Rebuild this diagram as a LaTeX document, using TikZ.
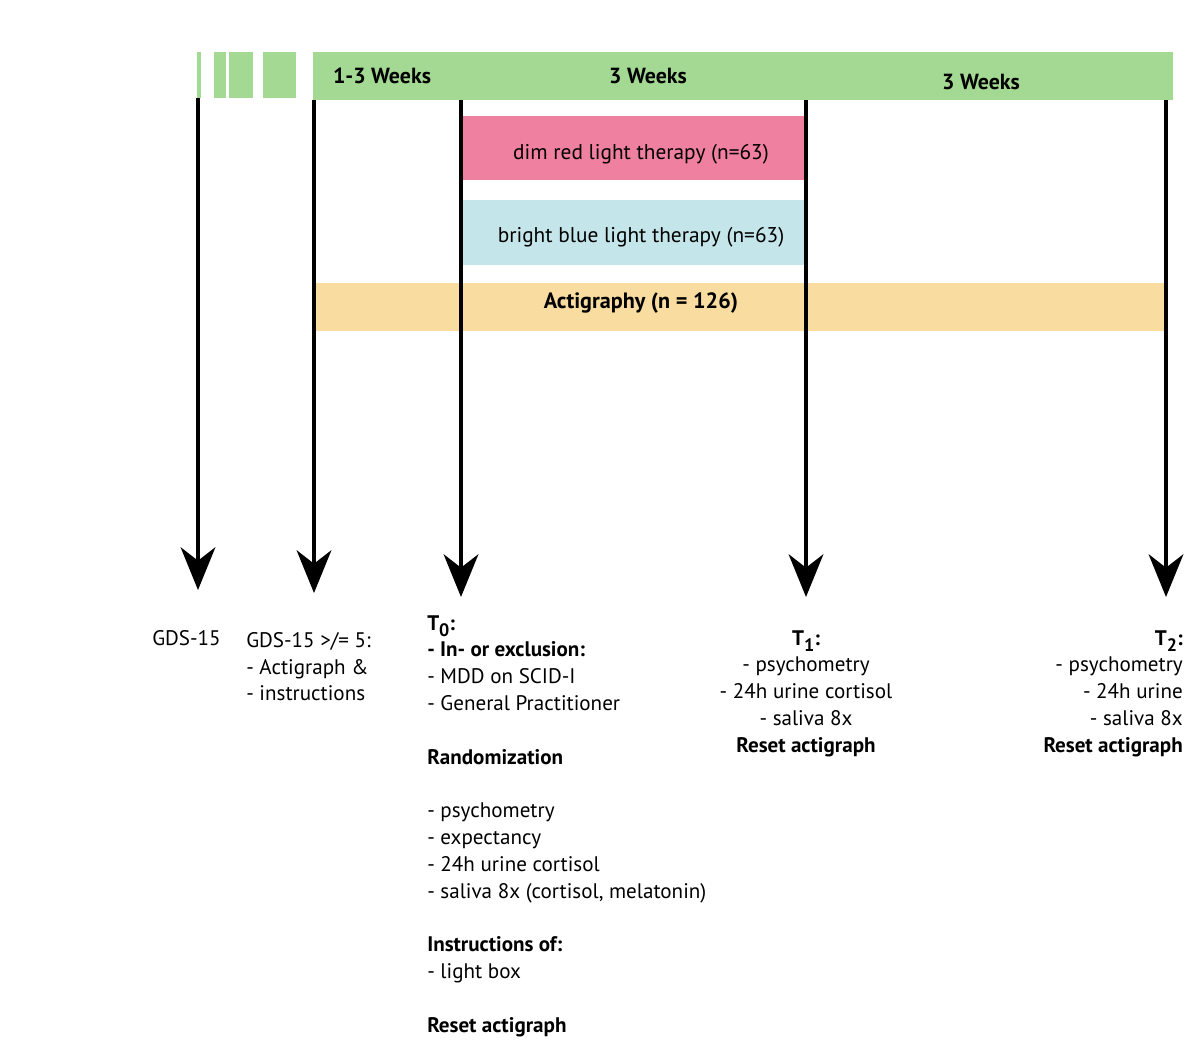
\documentclass[tikz,border=0pt]{standalone}
\usepackage{fontspec}
\setmainfont{PT Sans}
\usetikzlibrary{arrows.meta, positioning}

\definecolor{weekgreen}{RGB}{163,217,146}
\definecolor{redlight}{RGB}{240,128,160}
\definecolor{bluelight}{RGB}{196,230,234}
\definecolor{actiorange}{RGB}{248,220,160}

\newcommand{\tsub}[1]{\textbf{T\raisebox{-0.6ex}{\fontsize{13.5}{13.5}\selectfont #1}:}}

\tikzset{
	weeklabel/.style={inner sep=0, font=\fontsize{16.4}{20.1}\selectfont\bfseries},
	boxlabel/.style={inner sep=0, font=\fontsize{16}{20.1}\selectfont},
	blocktext/.style={inner sep=0, font=\fontsize{15.8}{20.1}\selectfont},
	timeline/.style={line width=3pt, -{Stealth[length=32pt, width=26pt, inset=10pt]}},
}

\begin{document}
\begin{tikzpicture}[x=0.75pt, y=-0.75pt]
	\useasboundingbox (0,0) rectangle (1200,1061);
	
	%//green time bar, pixel coordinates from top left
	
	\fill[weekgreen] (197,52) rectangle (201,98);
	\foreach \xa/\xb in {214/226, 229/253, 263/296}
	\fill[weekgreen] (\xa,52) rectangle (\xb,98);
	\fill[weekgreen] (313,52) rectangle (1173,100);
	
	\node [weeklabel] (wk1) at (382,76) {1-3 Weeks};
	\node [weeklabel] (wk2) at (648,76) {3 Weeks};
	\node [weeklabel] (wk3) at (981,82) {3 Weeks};
	
	%//therapy and actigraphy bars
	
	\fill[redlight] (460,116) rectangle (806,180);
	\node [boxlabel] (red) at (641,154) {dim red light therapy (n=63)};
	
	\fill[bluelight] (460,200) rectangle (808,265);
	\node [boxlabel] (blue) at (641,237) {bright blue light therapy (n=63)};
	
	\fill[actiorange] (315,283) rectangle (1166,331);
	\node [boxlabel, font=\fontsize{16.6}{20.1}\selectfont\bfseries] (acti) at (641,303) {Actigraphy (n = 126)};
	
	%//time arrows
	
	\foreach \name/\x/\ya/\yb in {scr/198/98/590, base/314/100/593, t0/461/100/597, t1/806/100/597, t2/1166/100/597}
	{
		\coordinate (\name-top) at (\x,\ya);
		\coordinate (\name-tip) at (\x,\yb);
		\draw [timeline] (\name-top) -- (\name-tip);
	}
	
	%//measurements below the arrows
	
	\node [blocktext, anchor=north west] (scrtext) at (152,630) {GDS-15};
	
	\node [blocktext, anchor=north west, align=left] (basetext) at (246,632)
	{GDS-15 >/= 5:\\ - Actigraph \&\\ - instructions};
	
	\node [blocktext, anchor=north west, align=left] (t0text) at (427,615)
	{\tsub{0}\\
		\textbf{- In- or exclusion:}\\
		- MDD on SCID-I\\
		- General Practitioner\\[20.1pt]
		\textbf{Randomization}\\[20.1pt]
		- psychometry\\
		- expectancy\\
		- 24h urine cortisol\\
		- saliva 8x (cortisol, melatonin)\\[20.1pt]
		\textbf{Instructions of:}\\
		- light box\\[20.1pt]
		\textbf{Reset actigraph}};
	
	\node [blocktext, anchor=north, align=center] (t1text) at (806,630)
	{\tsub{1}\\
		- psychometry\\
		- 24h urine cortisol\\
		- saliva 8x\\
		\textbf{Reset actigraph}};
	
	\node [blocktext, anchor=north east, align=right] (t2text) at (1183,630)
	{\tsub{2}\\
		- psychometry\\
		- 24h urine\\
		- saliva 8x\\
		\textbf{Reset actigraph}};
	
\end{tikzpicture}
\end{document}
